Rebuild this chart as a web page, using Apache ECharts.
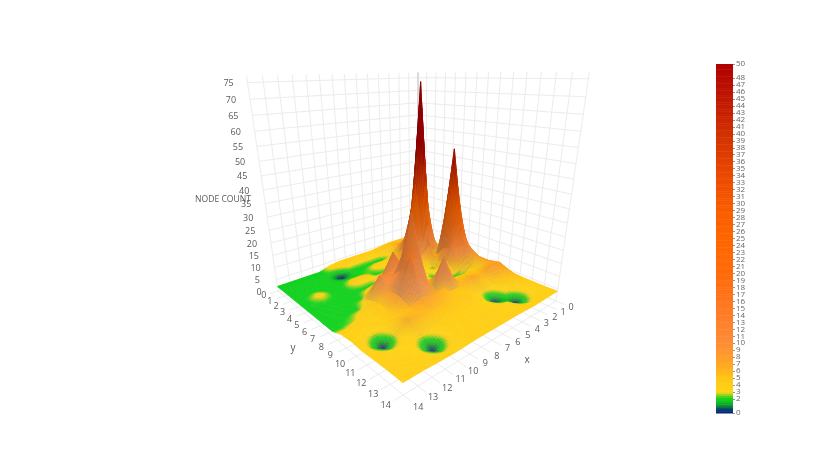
<!DOCTYPE html>
<html>
<head>
<meta charset="utf-8">
<script src="https://cdn.jsdelivr.net/npm/echarts@6/dist/echarts.min.js"></script>
<style>
    html, body { margin: 0; background: #fff; }
    #chart { width: 830px; height: 466px; filter: blur(0.45px); }
</style>
</head>
<body>
<div id="chart"></div>
<script>
    const xNodes = [0, 0.5, 1.5, 2.5, 3, 3.5, 4.5, 5.5, 6.5, 7.5, 8.5, 9.5, 10.5, 11.5, 12.5, 13.5, 14];
    const yNodes = [0, 0.5, 1.5, 2.5, 3.5, 4.5, 5.5, 6.5, 7.5, 8.5, 9.5, 10.5, 11.5, 12.5, 13.5, 14];

    // node count, one row per yNodes entry
    const nodeCount = [
        [4, 4.5, 5, 5, 5, 5, 4.5, 4, 4, 4, 4, 3.5, 2, 2, 2, 2, 2],
        [4, 4.5, 5, 5.5, 5.5, 5.5, 5, 4, 4, 4, 4, 3.2, 2, 2, 2, 2, 2],
        [4, 5, 6, 7, 7, 7, 3, 2, 2, 2, 2, 0, 2, 2, 2, 2, 2],
        [4, 5, 8, 12, 16, 12, 6, 4, 4, 2.5, 2, 2, 2, 2, 2, 2, 2],
        [4, 3, 2.5, 36, 74, 36, 10, 5, 2, 2, 4, 4, 2, 2, 3.5, 2, 2],
        [5, 6, 9, 2.5, 10, 8, 5, 2.5, 5, 6, 2, 2, 2, 2, 2, 2, 2],
        [8, 14, 50, 10, 5, 2, 4, 4, 6, 16, 7, 4, 2, 2, 2, 2, 2],
        [5, 10, 18, 12, 7, 5, 2, 4, 6, 12, 10, 12, 4, 2, 2, 2, 2],
        [5, 7, 3, 2, 2, 2.2, 4, 2.5, 8, 34, 14, 8, 5, 4, 2.6, 2, 2],
        [4.5, 7, 5, 5, 5, 5, 5, 16.5, 4, 12, 21, 8, 5, 4, 4, 3.5, 3.5],
        [4.5, 8, 8, 6, 6.5, 7, 6, 5, 6, 7, 8, 6, 5, 3.6, 3.1, 3.6, 4],
        [4, 6, 5.5, 3.6, 3.35, 3.1, 3.6, 5, 5, 5.5, 5.5, 6, 6.5, 3.1, 0, 3.1, 3.6],
        [4, 4.5, 3.7, 3.1, 1.55, 0, 3.1, 3.7, 4, 4.2, 4.2, 3.6, 3.1, 3.6, 3.1, 3.6, 3.8],
        [4, 3.7, 3.1, 0, 1.55, 3.1, 3.6, 4, 4, 4, 4, 3.1, 0, 3.1, 3.8, 4, 4],
        [4, 3.8, 3.6, 3.1, 3.35, 3.6, 3.8, 4, 4, 4, 4, 3.6, 3.1, 3.6, 4, 4, 4],
        [4, 4, 3.8, 3.7, 3.75, 3.8, 4, 4, 4, 4, 4, 3.8, 3.7, 3.8, 4, 4, 4]
    ];

    const xTicks = [0, 1, 2, 3, 4, 5, 6, 7, 8, 9, 10, 11, 12, 13, 14];
    const yTicks = [0, 1, 2, 3, 4, 5, 6, 7, 8, 9, 10, 11, 12, 13, 14];
    const zTicks = [0, 5, 10, 15, 20, 25, 30, 35, 40, 45, 50, 55, 60, 65, 70, 75];

    const colorStops = [
        [0, '#00206e'], [0.6, '#0a3f78'], [1, '#0b8a35'], [1.8, '#12cf1e'], [2.2, '#14d21e'],
        [3, '#ffd415'], [5, '#ffc612'], [7, '#ffa622'], [10, '#ff8c35'], [14, '#ff7d28'],
        [20, '#ff6a0a'], [25, '#ff6600'], [30, '#f85a00'], [35, '#e84400'], [40, '#d23000'],
        [45, '#c01800'], [50, '#b00000']
    ];

    const xMax = 14;
    const yMax = 14;
    const zMax = 77;
    const subSteps = 7;

    // perspective of the 3d box, u/v/w are 0..1 along x/y/z
    const cam = {
        xu: -198.46, xv: -4.73, xw: -60.6, x0: 418,
        yu: -13.2, yv: -19.27, yw: -181, y0: 243,
        du: -0.2103, dv: -0.2567, dw: -0.145
    };

    function project(x, y, z) {
        let u = x / xMax, v = y / yMax, w = z / zMax;
        let d = 1 + cam.du * u + cam.dv * v + cam.dw * w;
        return [
            (cam.x0 + cam.xu * u + cam.xv * v + cam.xw * w) / d,
            (cam.y0 + cam.yu * u + cam.yv * v + cam.yw * w) / d
        ];
    }

    function rgbOf(hex) {
        return [parseInt(hex.slice(1, 3), 16), parseInt(hex.slice(3, 5), 16), parseInt(hex.slice(5, 7), 16)];
    }

    function colorFor(value) {
        let v = Math.max(0, Math.min(50, value));
        for (let i = 1; i < colorStops.length; i++) {
            if (v <= colorStops[i][0]) {
                let a = colorStops[i - 1], b = colorStops[i];
                let t = (v - a[0]) / (b[0] - a[0]);
                let ca = rgbOf(a[1]), cb = rgbOf(b[1]);
                return [0, 1, 2].map(k => ca[k] + (cb[k] - ca[k]) * t);
            }
        }
        return rgbOf(colorStops[colorStops.length - 1][1]);
    }

    function css(rgb) {
        return 'rgb(' + rgb.map(Math.round).join(',') + ')';
    }

    // steep faces go darker, low and near ones paler, the surface is a bit see-through
    function shaded(rgb, value, steep, side, near) {
        let pale = [232, 176, 128];
        let mix = steep * (0.35 * Math.max(0, 1 - value / 30) + 0.45 * near);
        let dark = 1 - steep * (0.2 - 0.1 * side);
        return [0, 1, 2].map(k => (rgb[k] * (1 - mix) + pale[k] * mix) * dark);
    }

    function renderCell(params, api) {
        let c = api.value(0), r = api.value(1);
        let x0 = xNodes[c], x1 = xNodes[c + 1], y0 = yNodes[r], y1 = yNodes[r + 1];
        let z00 = nodeCount[r][c], z10 = nodeCount[r][c + 1], z01 = nodeCount[r + 1][c], z11 = nodeCount[r + 1][c + 1];
        let height = (s, t) => z00 * (1 - s) * (1 - t) + z10 * s * (1 - t) + z01 * (1 - s) * t + z11 * s * t;
        let near = Math.max(0, Math.min(1, (x0 + y0 - 9) / 5));
        let children = [];
        for (let j = 0; j < subSteps; j++) {
            for (let i = 0; i < subSteps; i++) {
                let s0 = i / subSteps, s1 = (i + 1) / subSteps, t0 = j / subSteps, t1 = (j + 1) / subSteps;
                let xa = x0 + (x1 - x0) * s0, xb = x0 + (x1 - x0) * s1;
                let ya = y0 + (y1 - y0) * t0, yb = y0 + (y1 - y0) * t1;
                let sm = (s0 + s1) / 2, tm = (t0 + t1) / 2;
                let dzdx = ((height(1, tm) - height(0, tm)) / (x1 - x0)) * (xMax / zMax);
                let dzdy = ((height(sm, 1) - height(sm, 0)) / (y1 - y0)) * (yMax / zMax);
                let slope = Math.sqrt(dzdx * dzdx + dzdy * dzdy);
                let steep = 1 - 1 / Math.sqrt(1 + slope * slope);
                let side = slope > 0 ? (dzdx - dzdy) / (1.414 * slope) : 0;
                let value = height(sm, tm);
                let fill = css(shaded(colorFor(value), value, steep, side, near));
                children.push({
                    type: 'polygon',
                    silent: true,
                    shape: {
                        points: [
                            project(xa, ya, height(s0, t0)),
                            project(xb, ya, height(s1, t0)),
                            project(xb, yb, height(s1, t1)),
                            project(xa, yb, height(s0, t1))
                        ]
                    },
                    style: { fill: fill, stroke: fill, lineWidth: 0.5 }
                });
            }
        }
        return { type: 'group', children: children };
    }

    function wallSegments() {
        let segs = [];
        xTicks.forEach(x => {
            segs.push([[x, 0, 0], [x, 0, zMax]]);
            segs.push([[x, 0, 0], [x, yMax + 0.6, 0]]);
        });
        yTicks.forEach(y => {
            segs.push([[0, y, 0], [0, y, zMax]]);
            segs.push([[0, y, 0], [xMax + 0.6, y, 0]]);
        });
        zTicks.forEach(z => {
            segs.push([[0, 0, z], [xMax, 0, z]]);
            segs.push([[0, 0, z], [0, yMax, z]]);
        });
        return segs;
    }

    function renderWalls() {
        let children = wallSegments().map(seg => {
            let a = project(seg[0][0], seg[0][1], seg[0][2]);
            let b = project(seg[1][0], seg[1][1], seg[1][2]);
            return {
                type: 'line',
                silent: true,
                shape: { x1: a[0], y1: a[1], x2: b[0], y2: b[1] },
                style: { stroke: '#ececec', lineWidth: 1 }
            };
        });
        let foot = project(0, 0, 0), top = project(0, 0, zMax);
        children.push({
            type: 'line',
            silent: true,
            shape: { x1: foot[0], y1: foot[1], x2: top[0], y2: top[1] },
            style: { stroke: '#c4c4c4', lineWidth: 1 }
        });
        return { type: 'group', children: children };
    }

    function label(text, pos, size) {
        return {
            type: 'text',
            silent: true,
            style: {
                text: String(text),
                x: pos[0],
                y: pos[1],
                fill: '#5a5a5a',
                font: size + 'px "Open Sans", sans-serif',
                align: 'center',
                verticalAlign: 'middle'
            }
        };
    }

    function renderLabels() {
        let children = [];
        xTicks.forEach(x => children.push(label(x, project(x, yMax + 1.1, 0), 9)));
        yTicks.forEach(y => children.push(label(y, project(xMax + 1.1, y, 0), 9)));
        zTicks.forEach(z => {
            let p = project(xMax, 0, z);
            children.push(label(z, [p[0] - 19, p[1] + 1], 9));
        });
        children.push(label('x', project(7, yMax + 2.4, 0), 10));
        children.push(label('y', project(xMax + 2.4, 7, 0), 10));
        children.push(label('NODE COUNT', [223, 200], 8.6));
        return { type: 'group', children: children };
    }

    let cells = [];
    for (let r = 0; r < yNodes.length - 1; r++) {
        for (let c = 0; c < xNodes.length - 1; c++) {
            cells.push([c, r]);
        }
    }

    let barLevels = [];
    for (let i = 0; i < 200; i++) {
        barLevels.push([0, i / 4]);
    }

    let option = {
        animation: false,
        backgroundColor: '#fff',
        grid: { left: 716, top: 64, width: 17, height: 349 },
        xAxis: { type: 'category', data: [''], show: false },
        yAxis: {
            type: 'value',
            position: 'right',
            min: 0,
            max: 50,
            interval: 1,
            splitLine: { show: false },
            axisLine: { show: false },
            axisTick: { show: true, length: 2, lineStyle: { color: '#999' } },
            axisLabel: {
                fontSize: 8,
                lineHeight: 6,
                margin: 3,
                color: '#666',
                fontFamily: 'Open Sans',
                showMinLabel: true,
                showMaxLabel: true,
                hideOverlap: false
            }
        },
        series: [
            {
                type: 'custom',
                coordinateSystem: 'none',
                renderItem: renderWalls,
                data: [[0]],
                z: 1,
                silent: true
            },
            {
                type: 'custom',
                coordinateSystem: 'none',
                renderItem: renderCell,
                data: cells,
                z: 2,
                silent: true
            },
            {
                type: 'custom',
                coordinateSystem: 'none',
                renderItem: renderLabels,
                data: [[0]],
                z: 3,
                silent: true
            },
            {
                type: 'custom',
                coordinateSystem: 'cartesian2d',
                data: barLevels,
                silent: true,
                renderItem: function (params, api) {
                    let level = api.value(1);
                    let a = api.coord([0, level]);
                    let b = api.coord([0, level + 0.25]);
                    let fill = css(colorFor(level + 0.125));
                    return {
                        type: 'rect',
                        shape: { x: 716, y: b[1], width: 17, height: a[1] - b[1] + 0.5 },
                        style: { fill: fill }
                    };
                }
            }
        ]
    };

    let myChart = echarts.init(document.getElementById('chart'), null, { renderer: 'canvas' });
    myChart.setOption(option);
</script>
</body>
</html>
